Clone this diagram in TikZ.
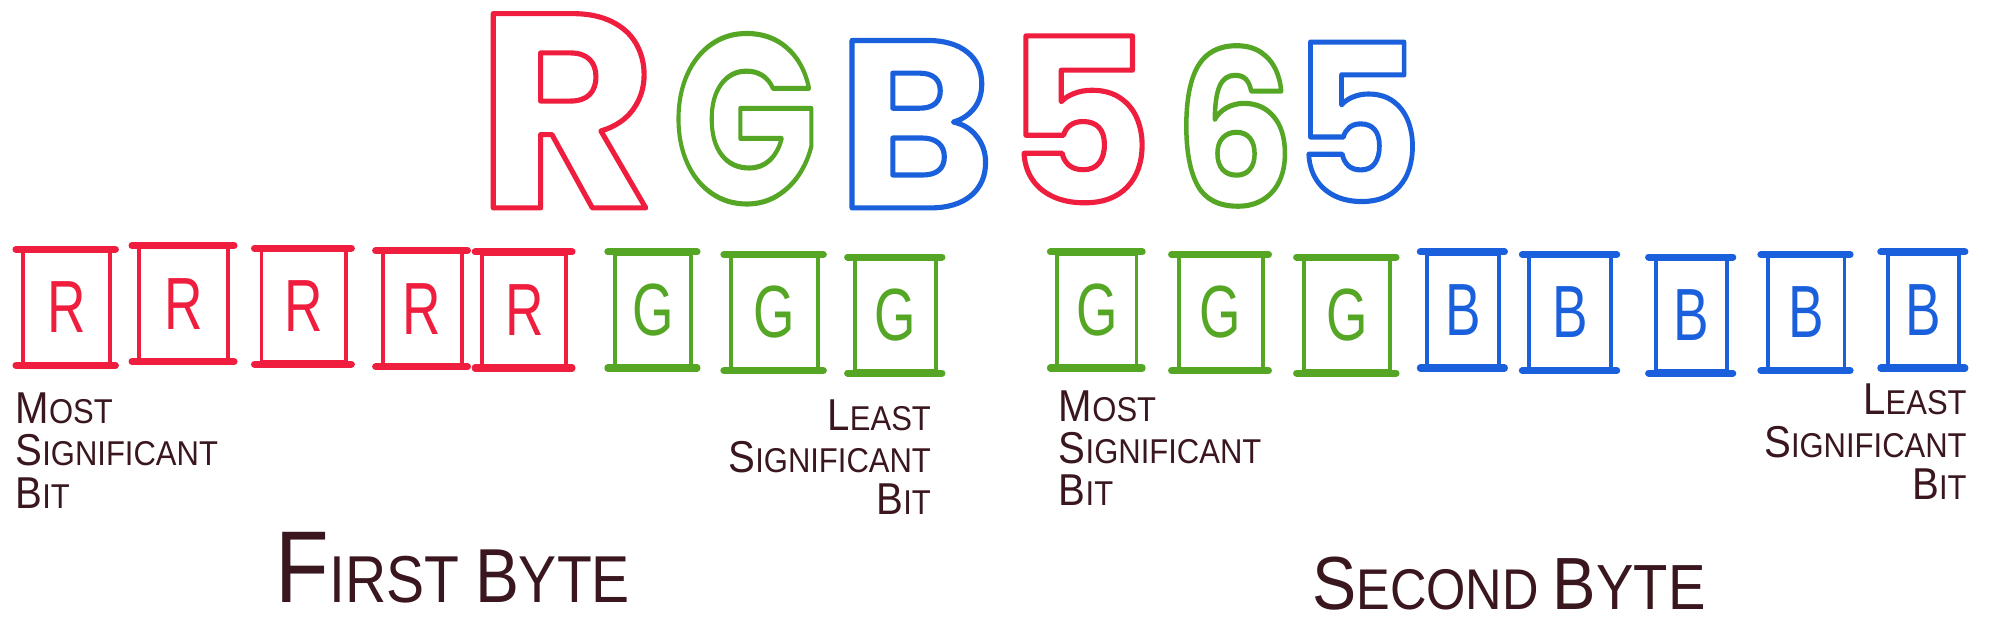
\documentclass[tikz,border=0pt]{standalone}
\usepackage{fontspec}
\setmainfont{Liberation Sans}
\newfontfamily\titlefont{Poppins}
\definecolor{mred}{RGB}{240,30,62}
\definecolor{mgreen}{RGB}{86,166,38}
\definecolor{mblue}{RGB}{26,96,220}
\definecolor{ink}{RGB}{58,22,30}
\newcommand\lbl[2]{{\fontsize{35}{35}\selectfont #1}{\fontsize{27}{27}\selectfont #2}}
\newcommand\ttlchar[4]{\scalebox{#3}[1]{\fontsize{#2}{#2}\selectfont\color{#4}\special{pdf:literal direct 1 Tr 4 w 1 J 1 j}#1\special{pdf:literal direct 0 Tr}}}
\begin{document}
\begin{tikzpicture}[x=1pt,y=-1pt,
  bitbox/.style={draw, line width=3pt, inner sep=0pt, minimum height=88pt,
    font=\fontsize{58}{58}\selectfont},
  lid/.style={line width=5.5pt, line cap=round},
  titlech/.style={anchor=base, inner sep=0pt, text depth=0pt, font=\titlefont\bfseries},
  note/.style={inner sep=0pt, text=ink, xscale=0.9, font=\fontsize{27}{33}\selectfont},
  bytelbl/.style={anchor=base, inner sep=0pt, text=ink}]
\fill[white] (0,0) rectangle (1568,504);
\useasboundingbox (0,0) rectangle (1568,504);
% title
\node[titlech] (tR) at (444,163) {\ttlchar{R}{217}{1}{mred}};
\node[titlech] (tG) at (584,159) {\ttlchar{G}{187}{0.8}{mgreen}};
\node[titlech] (tB) at (718,163) {\ttlchar{B}{187}{1}{mblue}};
\node[titlech] (t5a) at (846,159) {\ttlchar{5}{179}{1}{mred}};
\node[titlech] (t6) at (968,161) {\ttlchar{6}{168}{0.88}{mgreen}};
\node[titlech] (t5b) at (1064,158) {\ttlchar{5}{171}{0.92}{mblue}};
% bit boxes
\foreach \n/\l/\c/\x/\y/\w in {
  r1/R/mred/52/241/68, r2/R/mred/144/238/70, r3/R/mred/238/240/66,
  r4/R/mred/331/242/62, r5/R/mred/411/243/66,
  g1/G/mgreen/512/243/60, g2/G/mgreen/607/245/68, g3/G/mgreen/702/247/64,
  g4/G/mgreen/860/243/62, g5/G/mgreen/957/245/66, g6/G/mgreen/1056/247/68,
  b1/B/mblue/1147/243/56, b2/B/mblue/1231/245/64, b3/B/mblue/1326/247/56,
  b4/B/mblue/1416/245/60, b5/B/mblue/1508/243/56} {
  \node[bitbox, draw=\c, text=\c, minimum width=\w pt] (\n) at (\x,\y) {\scalebox{0.72}[1]{\l}};
  \draw[lid, \c] ([xshift=-4pt]\n.north west) -- ([xshift=3pt]\n.north east);
  \draw[lid, \c] ([xshift=-4pt]\n.south west) -- ([xshift=3pt]\n.south east);
}
% notes
\node[note, anchor=north west, align=left] (m1) at (12,308)
  {\lbl{M}{OST}\\\lbl{S}{IGNIFICANT}\\\lbl{B}{IT}};
\node[note, anchor=north east, align=right] (l1) at (730,313)
  {\lbl{L}{EAST}\\\lbl{S}{IGNIFICANT}\\\lbl{B}{IT}};
\node[note, anchor=north west, align=left] (m2) at (830,306)
  {\lbl{M}{OST}\\\lbl{S}{IGNIFICANT}\\\lbl{B}{IT}};
\node[note, anchor=north east, align=right] (l2) at (1542,301)
  {\lbl{L}{EAST}\\\lbl{S}{IGNIFICANT}\\\lbl{B}{IT}};
% byte labels
\node[bytelbl] (fb) at (355,472) {\scalebox{0.86}[1]{{\fontsize{80}{80}\selectfont F}{\fontsize{52}{52}\selectfont IRST }{\fontsize{60}{60}\selectfont B}{\fontsize{52}{52}\selectfont YTE}}};
\node[bytelbl] (sb) at (1183,478) {\scalebox{0.88}[1]{{\fontsize{59}{59}\selectfont S}{\fontsize{45}{45}\selectfont ECOND }{\fontsize{58}{58}\selectfont B}{\fontsize{50}{50}\selectfont YTE}}};
\end{tikzpicture}
\end{document}
